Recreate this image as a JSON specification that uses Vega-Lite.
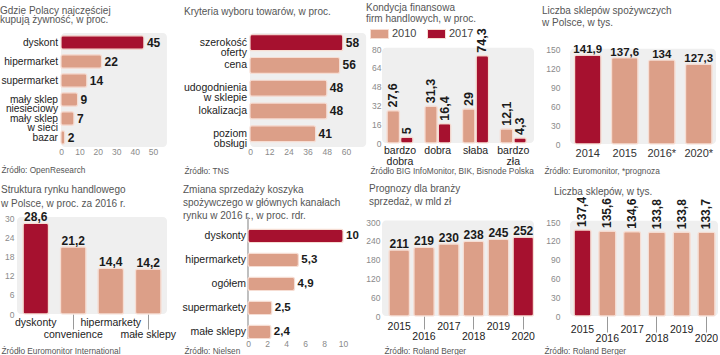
{
"$schema": "https://vega.github.io/schema/vega-lite/v6.json",
"padding": {"left": 0, "top": 2, "right": 0, "bottom": 0},
"background": "white",
"columns": 4,
"bounds": "flush",
"align": {"row": "each", "column": "each"},
"spacing": {"row": 70, "column": 36},
"resolve": {"legend": {"color": "independent"}, "scale": {"color": "independent"}},
"datasets": {
 "p1": [{"cat": "dyskont", "v": 45}, {"cat": "hipermarket", "v": 22}, {"cat": "supermarket", "v": 14}, {"cat": "mały sklep\nniesieciowy", "v": 9}, {"cat": "mały sklep\nw sieci", "v": 7}, {"cat": "bazar", "v": 2}],
 "p2": [{"cat": "szerokość\noferty", "v": 58}, {"cat": "cena", "v": 56}, {"cat": "udogodnienia\nw sklepie", "v": 48}, {"cat": "lokalizacja", "v": 48}, {"cat": "poziom\nobsługi", "v": 41}],
 "p3": [{"cat": "bardzo dobra", "year": "2010", "v": 27.6}, {"cat": "bardzo dobra", "year": "2017", "v": 5}, {"cat": "dobra", "year": "2010", "v": 31.3}, {"cat": "dobra", "year": "2017", "v": 16.4}, {"cat": "słaba", "year": "2010", "v": 29}, {"cat": "słaba", "year": "2017", "v": 74.3}, {"cat": "bardzo zła", "year": "2010", "v": 12.1}, {"cat": "bardzo zła", "year": "2017", "v": 4.3}],
 "p4": [{"cat": "2014", "v": 141.9}, {"cat": "2015", "v": 137.6}, {"cat": "2016*", "v": 134}, {"cat": "2020*", "v": 127.3}],
 "p5": [{"cat": "dyskonty", "v": 28.6}, {"cat": "convenience", "v": 21.2}, {"cat": "hipermarkety", "v": 14.4}, {"cat": "małe sklepy", "v": 14.2}],
 "p6": [{"cat": "dyskonty", "v": 10}, {"cat": "hipermarkety", "v": 5.3}, {"cat": "ogółem", "v": 4.9}, {"cat": "supermarkety", "v": 2.5}, {"cat": "małe sklepy", "v": 2.4}],
 "p7": [{"cat": "2015", "v": 211}, {"cat": "2016", "v": 219}, {"cat": "2017", "v": 230}, {"cat": "2018", "v": 238}, {"cat": "2019", "v": 245}, {"cat": "2020", "v": 252}],
 "p8": [{"cat": "2015", "v": 137.4}, {"cat": "2016", "v": 135.6}, {"cat": "2017", "v": 134.6}, {"cat": "2018", "v": 133.8}, {"cat": "2019", "v": 133.8}, {"cat": "2020", "v": 133.7}]
},
"concat": [
 {
  "width": 150, "height": 114,
  "title": {"text": ["Gdzie Polacy najczęściej", "kupują żywność, w proc."], "dx": -17, "offset": 7.5, "lineHeight": 9.8},
  "data": {"name": "p1"},
  "layer": [
   {"data": {"values": [{}]}, "mark": {"type": "rect", "fill": "#efefef", "cornerRadius": 4, "clip": false},
    "encoding": {"x": {"datum": 0, "type": "quantitative", "scale": {"domain": [-23.89, 57.55], "nice": false, "zero": false}}, "x2": {"datum": 57.5}}},
   {"mark": {"type": "bar", "cornerRadius": 2, "stroke": "#f6ddd3", "strokeWidth": 1.2},
    "encoding": {
     "y": {"field": "cat", "type": "nominal", "sort": null, "scale": {"paddingInner": 0.3, "paddingOuter": 0.15}, "axis": null},
     "x": {"field": "v", "type": "quantitative", "scale": {"domain": [-23.89, 57.55], "nice": false, "zero": false}, "axis": {"values": [0, 10, 20, 30, 40, 50], "tickCount": 20, "labelPadding": 0.5, "title": "Źródło: OpenResearch", "titleX": -16, "titleY": 25}},
     "x2": {"datum": 0},
     "color": {"condition": {"test": "datum.cat == 'dyskont'", "value": "#a6112f"}, "value": "#dc9f88"}}},
   {"mark": {"type": "text", "align": "left", "baseline": "middle", "dx": 3, "fontSize": 12, "fontWeight": "bold", "color": "#1a1a1a"},
    "encoding": {
     "y": {"field": "cat", "type": "nominal", "sort": null, "scale": {"paddingInner": 0.3, "paddingOuter": 0.15}, "axis": null},
     "x": {"field": "v", "type": "quantitative", "scale": {"domain": [-23.89, 57.55], "nice": false, "zero": false}},
     "text": {"field": "v", "format": ".1~f"}}},
   {"mark": {"type": "text", "align": "right", "baseline": "middle", "dx": -3, "fontSize": 10.2, "color": "#222", "lineBreak": "\n", "lineHeight": 9.3},
    "encoding": {
     "y": {"field": "cat", "type": "nominal", "sort": null, "scale": {"paddingInner": 0.3, "paddingOuter": 0.15}, "axis": null},
     "x": {"datum": 0, "type": "quantitative", "scale": {"domain": [-23.89, 57.55], "nice": false, "zero": false}},
     "text": {"field": "cat"}}}
  ]
 },
 {
  "width": 143, "height": 114,
  "title": {"text": "Kryteria wyboru towarów, w proc.", "dx": -19, "offset": 16},
  "data": {"name": "p2"},
  "layer": [
   {"data": {"values": [{}]}, "mark": {"type": "rect", "fill": "#efefef", "cornerRadius": 4, "clip": false},
    "encoding": {"x": {"datum": 0, "type": "quantitative", "scale": {"domain": [-29.375, 60], "nice": false, "zero": false}}, "x2": {"datum": 72.6}}},
   {"mark": {"type": "bar", "cornerRadius": 2, "stroke": "#f6ddd3", "strokeWidth": 1.2},
    "encoding": {
     "y": {"field": "cat", "type": "nominal", "sort": null, "scale": {"paddingInner": 0.3, "paddingOuter": 0.155, "align": 0.25}, "axis": null},
     "x": {"field": "v", "type": "quantitative", "scale": {"domain": [-29.375, 60], "nice": false, "zero": false}, "axis": {"values": [0, 12, 24, 36, 48, 60], "tickCount": 20, "labelPadding": 0.5, "title": "Źródło: TNS", "titleX": -19, "titleY": 26}},
     "x2": {"datum": 0},
     "color": {"condition": {"test": "datum.v == 58", "value": "#a6112f"}, "value": "#dc9f88"}}},
   {"mark": {"type": "text", "align": "left", "baseline": "middle", "dx": 3, "fontSize": 12, "fontWeight": "bold", "color": "#1a1a1a"},
    "encoding": {
     "y": {"field": "cat", "type": "nominal", "sort": null, "scale": {"paddingInner": 0.3, "paddingOuter": 0.155, "align": 0.25}, "axis": null},
     "x": {"field": "v", "type": "quantitative", "scale": {"domain": [-29.375, 60], "nice": false, "zero": false}},
     "text": {"field": "v", "format": ".1~f"}}},
   {"mark": {"type": "text", "align": "right", "baseline": "middle", "dx": -3, "fontSize": 10.5, "color": "#222", "lineBreak": "\n", "lineHeight": 10},
    "encoding": {
     "y": {"field": "cat", "type": "nominal", "sort": null, "scale": {"paddingInner": 0.3, "paddingOuter": 0.155, "align": 0.25}, "axis": null},
     "x": {"datum": 0, "type": "quantitative", "scale": {"domain": [-29.375, 60], "nice": false, "zero": false}},
     "text": {"field": "cat"}}}
  ]
 },
 {
  "width": 152, "height": 110,
  "title": {"text": ["Kondycja finansowa", "firm handlowych, w proc."], "dx": -16, "offset": 1, "lineHeight": 11},
  "data": {"name": "p3"},
  "layer": [
   {"data": {"values": [{}]}, "mark": {"type": "rect", "fill": "#efefef", "cornerRadius": 4},
    "encoding": {"y": {"datum": 0, "type": "quantitative", "scale": {"domain": [0, 93.62], "nice": false}}, "y2": {"datum": 81}}},
   {"mark": {"type": "bar", "cornerRadius": 2, "stroke": "#f6ddd3", "strokeWidth": 1.2},
    "encoding": {
     "x": {"field": "cat", "type": "nominal", "sort": null, "scale": {"paddingInner": 0.31, "paddingOuter": 0.168, "align": 0.394},
       "axis": {"labelExpr": "split(datum.label, ' ')", "labelFontSize": 10.5, "labelColor": "#222", "labelLineHeight": 11, "labelPadding": 2, "labelAngle": 0, "title": "Źródło BIG InfoMonitor, BIK, Bisnode Polska", "titleX": -12, "titleY": 30}},
     "xOffset": {"field": "year", "type": "nominal", "scale": {"paddingInner": 0.08, "paddingOuter": 0}},
     "y": {"field": "v", "type": "quantitative", "scale": {"domain": [0, 93.62], "nice": false}, "axis": {"values": [0, 16, 32, 48, 64, 80], "tickCount": 20, "labelPadding": 1, "title": null}},
     "color": {"field": "year", "type": "nominal", "scale": {"domain": ["2010", "2017"], "range": ["#dc9f88", "#a6112f"]},
       "legend": {"orient": "none", "legendX": -12, "legendY": -8.5, "direction": "horizontal", "title": null, "symbolType": "M-1,-0.5H1V0.5H-1Z", "symbolSize": 324, "symbolStrokeWidth": 1, "symbolStrokeColor": "#f6ddd3", "labelFontSize": 11, "labelColor": "#444", "labelOffset": 3, "columnPadding": 8, "padding": 0}}}},
   {"mark": {"type": "text", "angle": 270, "align": "left", "baseline": "middle", "dx": 3, "fontSize": 12.5, "fontWeight": "bold", "color": "#1a1a1a"},
    "encoding": {
     "x": {"field": "cat", "type": "nominal", "sort": null, "scale": {"paddingInner": 0.31, "paddingOuter": 0.168, "align": 0.394}},
     "xOffset": {"field": "year", "type": "nominal", "scale": {"paddingInner": 0.08, "paddingOuter": 0}},
     "y": {"field": "v", "type": "quantitative", "scale": {"domain": [0, 93.62], "nice": false}},
     "text": {"field": "v", "format": ".1~f"}}}
  ]
 },
 {
  "width": 146, "height": 111,
  "title": {"text": ["Liczba sklepów spożywczych", "w Polsce, w tys."], "dx": -28, "offset": 5, "lineHeight": 12.3},
  "data": {"name": "p4"},
  "layer": [
   {"data": {"values": [{}]}, "mark": {"type": "rect", "fill": "#efefef", "cornerRadius": 4},
    "encoding": {"y": {"datum": 0, "type": "quantitative", "scale": {"domain": [0, 177.1], "nice": false}}, "y2": {"datum": 152}}},
   {"mark": {"type": "bar", "cornerRadius": 2, "stroke": "#f6ddd3", "strokeWidth": 1.2},
    "encoding": {
     "x": {"field": "cat", "type": "nominal", "sort": null, "scale": {"paddingInner": 0.284, "paddingOuter": 0.115, "align": 0.53},
       "axis": {"labelFontSize": 11, "labelColor": "#333", "labelPadding": 3, "labelAngle": 0, "title": "Źródło: Euromonitor, *prognoza", "titleX": -26, "titleY": 29}},
     "y": {"field": "v", "type": "quantitative", "scale": {"domain": [0, 177.1], "nice": false}, "axis": {"values": [0, 30, 60, 90, 120, 150], "tickCount": 20, "labelPadding": 10, "title": null}},
     "color": {"condition": {"test": "datum.cat == '2014'", "value": "#a6112f"}, "value": "#dc9f88"}}},
   {"mark": {"type": "text", "baseline": "alphabetic", "dy": -2, "fontSize": 11.5, "fontWeight": "bold", "color": "#1a1a1a"},
    "encoding": {
     "x": {"field": "cat", "type": "nominal", "sort": null, "scale": {"paddingInner": 0.284, "paddingOuter": 0.115, "align": 0.53}},
     "y": {"field": "v", "type": "quantitative", "scale": {"domain": [0, 177.1], "nice": false}},
     "text": {"field": "v", "format": ".1~f"}}}
  ]
 },
 {
  "width": 150, "height": 97,
  "title": {"text": ["Struktura rynku handlowego", "w Polsce, w proc. za 2016 r."], "dx": -16, "offset": 2, "lineHeight": 14},
  "data": {"name": "p5"},
  "layer": [
   {"data": {"values": [{}]}, "mark": {"type": "rect", "fill": "#efefef", "cornerRadius": 4},
    "encoding": {"y": {"datum": 0, "type": "quantitative", "scale": {"domain": [0, 30.63], "nice": false}}, "y2": {"datum": 30.63}}},
   {"mark": {"type": "bar", "cornerRadius": 2, "stroke": "#f6ddd3", "strokeWidth": 1.2},
    "encoding": {
     "x": {"field": "cat", "type": "nominal", "sort": null, "scale": {"paddingInner": 0.32, "paddingOuter": 0.16},
       "axis": {"labelExpr": "indexof(['convenience','małe sklepy'], datum.label) >= 0 ? ['', datum.label] : datum.label", "labelFontSize": 10.5, "labelColor": "#222", "labelAngle": 0, "labelBaseline": "top", "labelLineHeight": 12, "ticks": true, "tickSize": 15, "tickWidth": 1, "bandPosition": 0.5,
        "tickColor": {"condition": {"test": "indexof(['convenience','małe sklepy'], datum.value) >= 0", "value": "#999"}, "value": "transparent"},
        "labelPadding": -12, "title": "Źródło Euromonitor International", "titleX": -16, "titleY": 39}},
     "y": {"field": "v", "type": "quantitative", "scale": {"domain": [0, 30.63], "nice": false}, "axis": {"values": [0, 6, 12, 18, 24, 30], "tickCount": 20, "labelPadding": 3, "title": null}},
     "color": {"condition": {"test": "datum.cat == 'dyskonty'", "value": "#a6112f"}, "value": "#dc9f88"}}},
   {"mark": {"type": "text", "baseline": "alphabetic", "dy": -2, "fontSize": 12, "fontWeight": "bold", "color": "#1a1a1a"},
    "encoding": {
     "x": {"field": "cat", "type": "nominal", "sort": null, "scale": {"paddingInner": 0.32, "paddingOuter": 0.16}},
     "y": {"field": "v", "type": "quantitative", "scale": {"domain": [0, 30.63], "nice": false}},
     "text": {"field": "v", "format": ".1~f"}}}
  ]
 },
 {
  "width": 143, "height": 121.5,
  "title": {"text": ["Zmiana sprzedaży koszyka", "spożywczego w głównych kanałach", "rynku w 2016 r., w proc. rdr."], "dx": -20, "offset": -4, "lineHeight": 13},
  "data": {"name": "p6"},
  "layer": [
   {"mark": {"type": "rule", "color": "#bdbdbd", "strokeWidth": 1},
    "encoding": {"x": {"datum": 0, "type": "quantitative", "scale": {"domain": [-4.737, 10.316], "nice": false, "zero": false}}}},
   {"mark": {"type": "bar", "cornerRadius": 2, "stroke": "#f6ddd3", "strokeWidth": 1.2},
    "encoding": {
     "y": {"field": "cat", "type": "nominal", "sort": null, "scale": {"paddingInner": 0.45, "paddingOuter": 0.256, "align": 1}, "axis": null},
     "x": {"field": "v", "type": "quantitative", "scale": {"domain": [-4.737, 10.316], "nice": false, "zero": false}, "axis": {"values": [0, 2, 4, 6, 8, 10], "tickCount": 20, "labelPadding": 1, "title": "Źródło: Nielsen", "titleX": -19, "titleY": 14.5}},
     "x2": {"datum": 0},
     "color": {"condition": {"test": "datum.cat == 'dyskonty'", "value": "#a6112f"}, "value": "#dc9f88"}}},
   {"mark": {"type": "text", "align": "left", "baseline": "middle", "dx": 3, "fontSize": 11.5, "fontWeight": "bold", "color": "#1a1a1a"},
    "encoding": {
     "y": {"field": "cat", "type": "nominal", "sort": null, "scale": {"paddingInner": 0.45, "paddingOuter": 0.256, "align": 1}, "axis": null},
     "x": {"field": "v", "type": "quantitative", "scale": {"domain": [-4.737, 10.316], "nice": false, "zero": false}},
     "text": {"field": "v", "format": ".1~f"}}},
   {"mark": {"type": "text", "align": "right", "baseline": "middle", "dx": -2, "fontSize": 10.5, "color": "#222"},
    "encoding": {
     "y": {"field": "cat", "type": "nominal", "sort": null, "scale": {"paddingInner": 0.45, "paddingOuter": 0.256, "align": 1}, "axis": null},
     "x": {"datum": 0, "type": "quantitative", "scale": {"domain": [-4.737, 10.316], "nice": false, "zero": false}},
     "text": {"field": "cat"}}}
  ]
 },
 {
  "width": 152, "height": 99,
  "title": {"text": ["Prognozy dla branży", "sprzedaż, w mld zł"], "dx": -13, "offset": 10.3, "lineHeight": 13.2},
  "data": {"name": "p7"},
  "layer": [
   {"data": {"values": [{}]}, "mark": {"type": "rect", "fill": "#efefef", "cornerRadius": 4},
    "encoding": {"y": {"datum": 0, "type": "quantitative", "scale": {"domain": [0, 316], "nice": false}}, "y2": {"datum": 305}}},
   {"mark": {"type": "bar", "cornerRadius": 2, "stroke": "#f6ddd3", "strokeWidth": 1.2},
    "encoding": {
     "x": {"field": "cat", "type": "nominal", "sort": null, "scale": {"paddingInner": 0.173, "paddingOuter": 0.151, "align": 0.93},
       "axis": {"labelExpr": "indexof(['2016','2018','2020'], datum.label) >= 0 ? ['', datum.label] : datum.label", "labelFontSize": 10.5, "labelColor": "#222", "labelAngle": 0, "labelBaseline": "top", "labelLineHeight": 10.5, "ticks": true, "tickSize": 13, "tickWidth": 1, "bandPosition": 0.5,
        "tickColor": {"condition": {"test": "indexof(['2016','2018','2020'], datum.value) >= 0", "value": "#999"}, "value": "transparent"},
        "labelPadding": -8, "title": "Źródło: Roland Berger", "titleX": 2, "titleY": 37}},
     "y": {"field": "v", "type": "quantitative", "scale": {"domain": [0, 316], "nice": false}, "axis": {"values": [0, 60, 120, 180, 240, 300], "tickCount": 20, "labelPadding": 2, "title": null}},
     "color": {"condition": {"test": "datum.cat == '2020'", "value": "#a6112f"}, "value": "#dc9f88"}}},
   {"mark": {"type": "text", "baseline": "alphabetic", "dy": -2, "fontSize": 12, "fontWeight": "bold", "color": "#1a1a1a"},
    "encoding": {
     "x": {"field": "cat", "type": "nominal", "sort": null, "scale": {"paddingInner": 0.173, "paddingOuter": 0.151, "align": 0.93}},
     "y": {"field": "v", "type": "quantitative", "scale": {"domain": [0, 316], "nice": false}},
     "text": {"field": "v", "format": ".1~f"}}}
  ]
 },
 {
  "width": 148, "height": 99,
  "title": {"text": "Liczba sklepów, w tys.", "dx": -16, "offset": 0},
  "data": {"name": "p8"},
  "layer": [
   {"data": {"values": [{}]}, "mark": {"type": "rect", "fill": "#efefef", "cornerRadius": 4},
    "encoding": {"y": {"datum": 0, "type": "quantitative", "scale": {"domain": [0, 158], "nice": false}}, "y2": {"datum": 152}}},
   {"mark": {"type": "bar", "cornerRadius": 2, "stroke": "#f6ddd3", "strokeWidth": 1.2},
    "encoding": {
     "x": {"field": "cat", "type": "nominal", "sort": null, "scale": {"paddingInner": 0.315, "paddingOuter": 0.1415, "align": 0.57},
       "axis": {"labelExpr": "indexof(['2016','2018','2020'], datum.label) >= 0 ? ['', datum.label] : datum.label", "labelFontSize": 10.5, "labelColor": "#222", "labelAngle": 0, "labelBaseline": "top", "labelLineHeight": 9, "ticks": true, "tickSize": 16, "tickWidth": 1, "bandPosition": 0.5,
        "tickColor": {"condition": {"test": "indexof(['2016','2018','2020'], datum.value) >= 0", "value": "#999"}, "value": "transparent"},
        "labelPadding": -8, "title": "Źródło: Roland Berger", "titleX": -26, "titleY": 37}},
     "y": {"field": "v", "type": "quantitative", "scale": {"domain": [0, 158], "nice": false}, "axis": {"values": [0, 30, 60, 90, 120, 150], "tickCount": 20, "labelPadding": 10, "title": null}},
     "color": {"condition": {"test": "datum.cat == '2015'", "value": "#a6112f"}, "value": "#dc9f88"}}},
   {"mark": {"type": "text", "angle": 270, "align": "left", "baseline": "middle", "dx": 3, "fontSize": 12, "fontWeight": "bold", "color": "#1a1a1a"},
    "encoding": {
     "x": {"field": "cat", "type": "nominal", "sort": null, "scale": {"paddingInner": 0.315, "paddingOuter": 0.1415, "align": 0.57}},
     "y": {"field": "v", "type": "quantitative", "scale": {"domain": [0, 158], "nice": false}},
     "text": {"field": "v", "format": ".1~f"}}}
  ]
 }
],
"config": {
 "font": "Liberation Sans",
 "view": {"stroke": null},
 "locale": {"number": {"decimal": ",", "thousands": " ", "grouping": [3], "currency": ["", ""]}},
 "title": {"font": "Liberation Sans", "fontSize": 10, "fontWeight": "normal", "color": "#555", "anchor": "start", "frame": "group", "baseline": "bottom"},
 "axis": {"domain": false, "ticks": false, "grid": false, "labelFont": "Liberation Sans", "labelFontSize": 8.5, "labelColor": "#8a8a8a", "labelFlush": false, "labelOverlap": false, "titleFont": "Liberation Sans", "titleFontSize": 8.3, "titleFontWeight": "normal", "titleColor": "#555", "titleAlign": "left", "titleBaseline": "alphabetic"},
 "axisX": {"titleAngle": 0},
 "legend": {"labelFont": "Liberation Sans"}
}
}
